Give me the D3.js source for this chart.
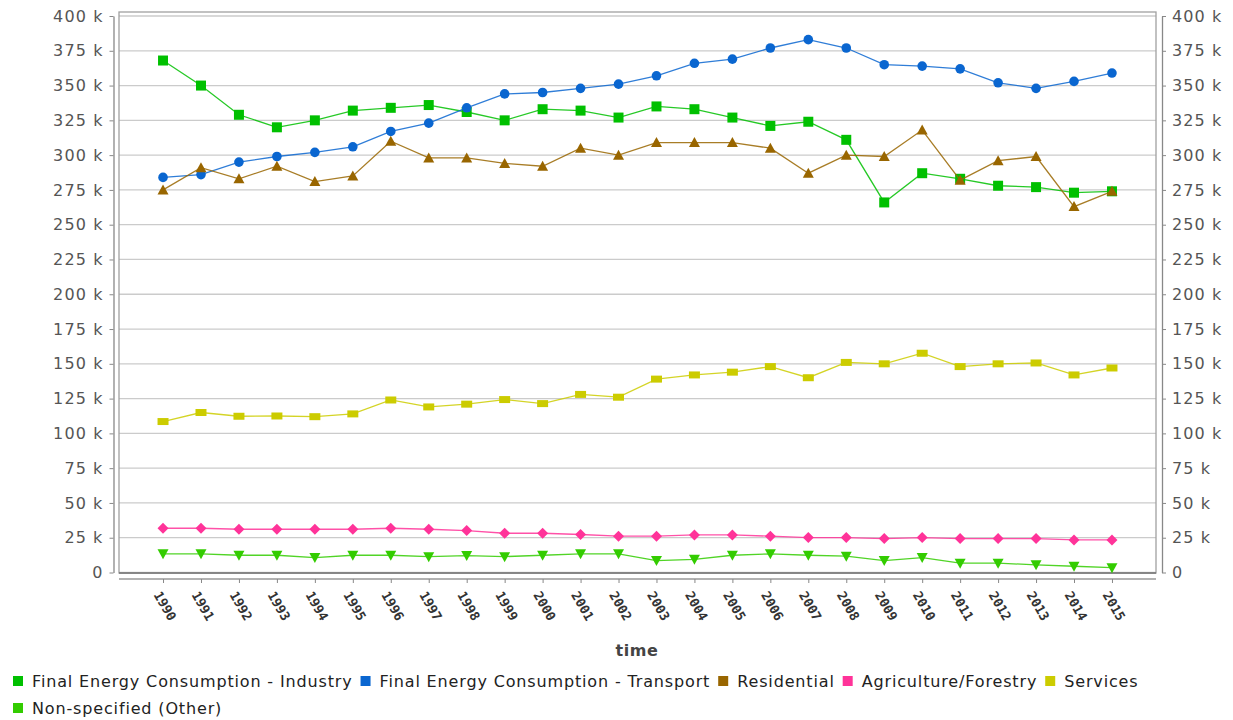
<!DOCTYPE html>
<html>
<head>
<meta charset="UTF-8">
<title>Final energy consumption</title>
<script src="https://cdn.jsdelivr.net/npm/d3@7"></script>
<style>
  body { margin: 0; background: #fff; }
  svg { display: block; font-family: "DejaVu Sans", sans-serif; }
</style>
</head>
<body>
<svg width="1233" height="720"></svg>
<script>
// data
var years = d3.range(1990, 2016);
var industry = [368, 350, 329, 320, 325, 332, 334, 336, 331, 325, 333, 332, 327, 335, 333, 327, 321, 324, 311, 266, 287, 283, 278, 277, 273, 274];
var transport = [284, 286, 295, 299, 302, 306, 317, 323, 334, 344, 345, 348, 351, 357, 366, 369, 377, 383, 377, 365, 364, 362, 352, 348, 353, 359];
var residential = [275, 291, 283, 292, 281, 285, 310, 298, 298, 294, 292, 305, 300, 309, 309, 309, 305, 287, 300, 299, 318, 282, 296, 299, 263, 274];
var agriculture = [31.8, 31.8, 31.1, 31.1, 31.1, 31.1, 31.8, 31.1, 30.1, 28.2, 28.2, 27.3, 26.1, 26.1, 27, 27, 26.1, 25.1, 25.1, 24.4, 25.1, 24.4, 24.4, 24.4, 23.4, 23.4];
var services = [108.5, 115, 112.3, 112.5, 112, 114, 124, 119, 121, 124.3, 121.4, 128, 126, 139, 142, 144, 148, 140, 151, 150, 157.6, 148, 150, 150.6, 142, 147];
var other = [13.4, 13.4, 12.4, 12.4, 10.7, 12.4, 12.4, 11.4, 12.2, 11.4, 12.4, 13.4, 13.4, 8.6, 9.5, 12.4, 13.4, 12.4, 11.7, 8.6, 10.7, 6.7, 6.7, 5.5, 4.5, 3.5];
var yTicks = d3.range(0, 400001, 25000);

var series = [
  {name: "Final Energy Consumption - Industry", values: industry, color: "#00c000", shape: "square"},
  {name: "Final Energy Consumption - Transport", values: transport, color: "#0a66d0", shape: "circle"},
  {name: "Residential", values: residential, color: "#996600", shape: "triangleUp"},
  {name: "Agriculture/Forestry", values: agriculture, color: "#ff3399", shape: "diamond"},
  {name: "Services", values: services, color: "#cccc00", shape: "rect"},
  {name: "Non-specified (Other)", values: other, color: "#33cc00", shape: "triangleDown"}
];

var svg = d3.select("svg");
var plot = {left: 119, right: 1156, top: 12, bottom: 573};

var x = d3.scalePoint().domain(years).range([plot.left, plot.right]).padding(1.16);
var y = d3.scaleLinear().domain([0, 400000]).range([572.5, 16]);

var fmt = function(d) { return d === 0 ? "0" : (d / 1000) + " k"; };

// grid
svg.append("g")
  .selectAll("line")
  .data(yTicks)
  .enter()
  .append("line")
  .attr("x1", plot.left).attr("x2", plot.right)
  .attr("y1", function(d) { return y(d); })
  .attr("y2", function(d) { return y(d); })
  .attr("stroke", "#cbcbcb")
  .attr("stroke-width", 1.3);

// plot outline
svg.append("rect")
  .attr("x", plot.left).attr("y", plot.top)
  .attr("width", plot.right - plot.left).attr("height", plot.bottom - plot.top)
  .attr("fill", "none")
  .attr("stroke", "#a0a0a0")
  .attr("stroke-width", 1.3);
svg.append("line")
  .attr("x1", plot.left).attr("x2", plot.right)
  .attr("y1", plot.bottom).attr("y2", plot.bottom)
  .attr("stroke", "#777").attr("stroke-width", 1.5);

// y axes
function styleAxis(g) {
  g.select(".domain").attr("stroke", "#888").attr("stroke-width", 1.3);
  g.selectAll(".tick line").attr("stroke", "#888");
  g.selectAll(".tick text")
    .attr("fill", "#555")
    .style("font-family", "DejaVu Sans, sans-serif")
    .style("font-size", "16px")
    .style("letter-spacing", "1.1px");
}
svg.append("g")
  .attr("transform", "translate(113.5,0)")
  .call(d3.axisLeft(y).tickValues(yTicks).tickFormat(fmt).tickSize(4).tickSizeOuter(0).tickPadding(6))
  .call(styleAxis);
svg.append("g")
  .attr("transform", "translate(1162,0)")
  .call(d3.axisRight(y).tickValues(yTicks).tickFormat(fmt).tickSize(4).tickSizeOuter(0).tickPadding(6))
  .call(styleAxis);

// x axis
var xg = svg.append("g")
  .attr("transform", "translate(0,579)")
  .call(d3.axisBottom(x).tickSize(4).tickSizeOuter(0).tickFormat(""));
xg.select(".domain").attr("stroke", "#999").attr("stroke-width", 1.5).attr("d", "M" + plot.left + ",0H" + plot.right);
xg.selectAll(".tick line").attr("stroke", "#888");

svg.append("g")
  .selectAll("text")
  .data(years)
  .enter()
  .append("text")
  .attr("transform", function(d) { return "translate(" + (x(d) + 2) + ",606) rotate(60)"; })
  .attr("text-anchor", "middle")
  .attr("dominant-baseline", "central")
  .attr("fill", "#333")
  .style("font-family", "DejaVu Sans Mono, monospace")
  .style("font-weight", "bold")
  .style("font-size", "13px")
  .text(function(d) { return d; });

svg.append("text")
  .attr("x", 637).attr("y", 656)
  .attr("text-anchor", "middle")
  .attr("fill", "#444")
  .style("font-weight", "bold")
  .style("font-size", "16px")
  .style("letter-spacing", "0.6px")
  .text("time");

// lines and markers
var line = d3.line()
  .x(function(d, i) { return x(years[i]); })
  .y(function(d) { return y(d * 1000); });

function marker(shape) {
  if (shape === "square") return "M-5,-5h10v10h-10z";
  if (shape === "rect") return "M-5.5,-3.5h11v7h-11z";
  if (shape === "circle") return "M-4.8,0a4.8,4.8 0 1,0 9.6,0a4.8,4.8 0 1,0 -9.6,0";
  if (shape === "triangleUp") return "M0,-5.5L5.5,4.5L-5.5,4.5z";
  if (shape === "triangleDown") return "M0,5.5L5.5,-4.5L-5.5,-4.5z";
  if (shape === "diamond") return "M0,-5.5L5.5,0L0,5.5L-5.5,0z";
}

series.forEach(function(s) {
  var g = svg.append("g");
  g.append("path")
    .attr("d", line(s.values))
    .attr("fill", "none")
    .attr("stroke", s.color)
    .attr("stroke-width", 1.3)
    .attr("opacity", 0.85);
  g.selectAll("path.m")
    .data(s.values)
    .enter()
    .append("path")
    .attr("class", "m")
    .attr("transform", function(d, i) { return "translate(" + x(years[i]) + "," + y(d * 1000) + ")"; })
    .attr("d", marker(s.shape))
    .attr("fill", s.color);
});

// legend, flowing left to right
var lx = 13, ly = 681;
series.forEach(function(s) {
  var item = svg.append("g");
  item.append("rect")
    .attr("x", lx).attr("y", ly - 5)
    .attr("width", 10).attr("height", 10)
    .attr("fill", s.color);
  var t = item.append("text")
    .attr("x", lx + 19).attr("y", ly)
    .attr("dominant-baseline", "central")
    .attr("fill", "#222")
    .style("font-size", "16px")
    .style("letter-spacing", "0.85px")
    .text(s.name);
  var w = t.node().getComputedTextLength();
  if (lx + 19 + w > 1225) {
    lx = 13; ly += 27;
    item.select("rect").attr("x", lx).attr("y", ly - 5);
    t.attr("x", lx + 19).attr("y", ly);
  }
  lx += 19 + w + 8;
});
</script>
</body>
</html>
